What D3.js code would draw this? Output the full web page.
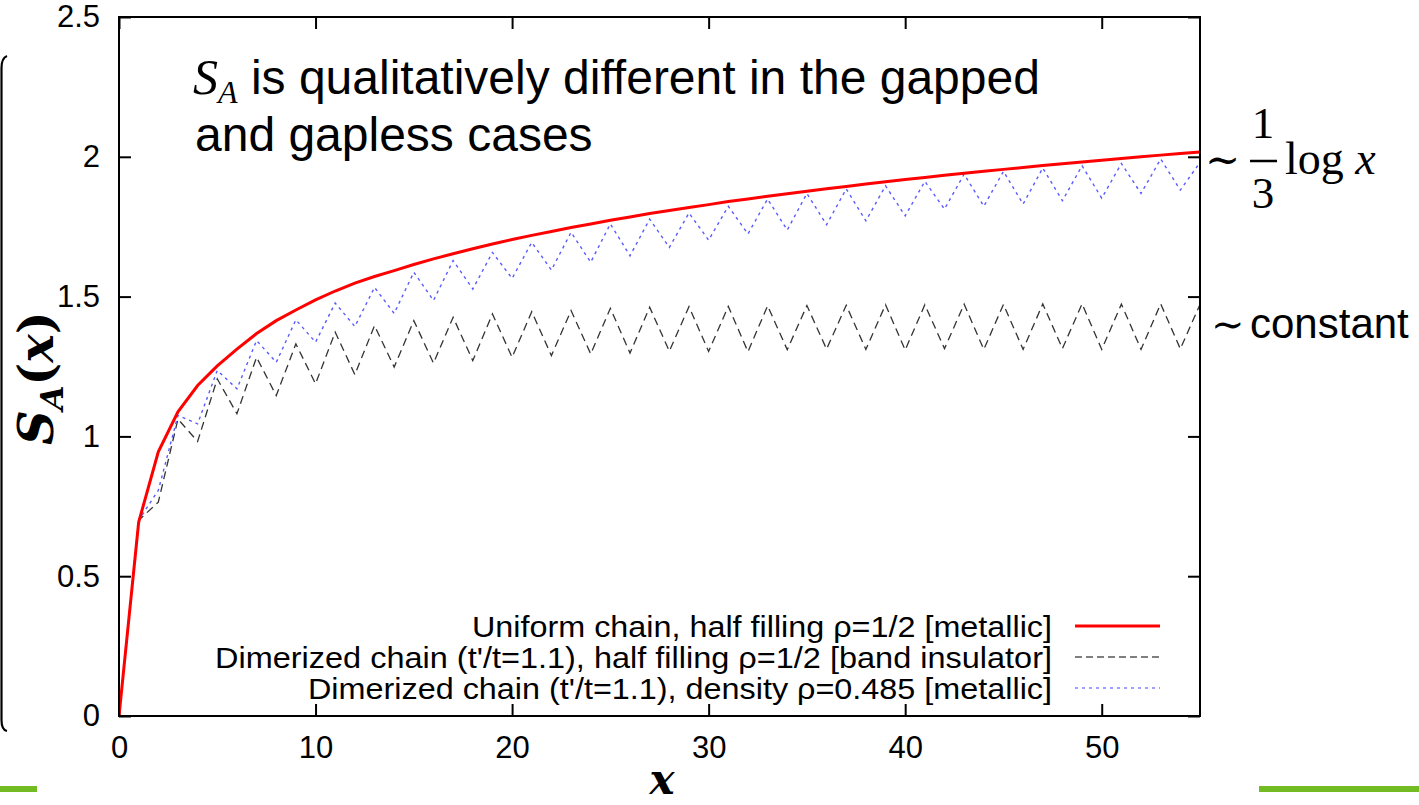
<!DOCTYPE html>
<html><head><meta charset="utf-8">
<script src="https://cdn.jsdelivr.net/npm/d3@7"></script>
<style>html,body{margin:0;padding:0;background:#fff;}svg{display:block;}</style>
</head><body>
<svg id="c" width="1419" height="805"></svg>
<script>
// ---- data ----
const uniformHalf = [0, 0.693, 0.945, 1.088, 1.182, 1.252, 1.312, 1.368, 1.414, 1.452, 1.488, 1.520, 1.548, 1.572, 1.593, 1.615, 1.635, 1.653, 1.671, 1.688, 1.704, 1.719, 1.733, 1.747, 1.760, 1.773, 1.785, 1.797, 1.808, 1.819, 1.829, 1.840, 1.849, 1.859, 1.868, 1.877, 1.886, 1.894, 1.903, 1.911, 1.919, 1.926, 1.934, 1.941, 1.948, 1.955, 1.962, 1.969, 1.975, 1.981, 1.988, 1.994, 2.000, 2.006, 2.012, 2.017];
const dimerHalf = [0, 0.70, 0.765, 1.062, 0.982, 1.206, 1.081, 1.283, 1.146, 1.331, 1.188, 1.373, 1.221, 1.396, 1.248, 1.414, 1.262, 1.426, 1.271, 1.438, 1.283, 1.446, 1.289, 1.450, 1.295, 1.458, 1.298, 1.462, 1.305, 1.464, 1.304, 1.465, 1.303, 1.467, 1.310, 1.468, 1.312, 1.469, 1.311, 1.471, 1.309, 1.471, 1.314, 1.473, 1.311, 1.472, 1.311, 1.474, 1.314, 1.474, 1.311, 1.473, 1.311, 1.474, 1.313, 1.472];
const dimerDensity = [0, 0.70, 0.807, 1.075, 1.045, 1.236, 1.170, 1.343, 1.265, 1.417, 1.337, 1.477, 1.393, 1.533, 1.440, 1.587, 1.486, 1.629, 1.527, 1.658, 1.565, 1.694, 1.595, 1.730, 1.623, 1.760, 1.646, 1.777, 1.676, 1.799, 1.702, 1.823, 1.724, 1.849, 1.738, 1.869, 1.757, 1.885, 1.771, 1.896, 1.789, 1.912, 1.813, 1.938, 1.823, 1.948, 1.831, 1.960, 1.843, 1.968, 1.852, 1.976, 1.869, 1.992, 1.881, 1.980];
const xTicks = [0, 10, 20, 30, 40, 50];
const yTicks = [0, 0.5, 1, 1.5, 2, 2.5];
const yTickLabels = ["0", "0.5", "1", "1.5", "2", "2.5"];
const legendLabels = [
  "Uniform chain, half filling \u03c1=1/2 [metallic]",
  "Dimerized chain (t'/t=1.1), half filling \u03c1=1/2 [band insulator]",
  "Dimerized chain (t'/t=1.1), density \u03c1=0.485 [metallic]"
];

// ---- layout ----
const L = 119, R = 1200, T = 17, B = 716;
const svg = d3.select("#c");
const x = d3.scaleLinear().domain([0, 55]).range([L, R]);
const y = d3.scaleLinear().domain([0, 2.5]).range([B, T]);
const sans = "'Liberation Sans', Arial, sans-serif";
const serif = "'Liberation Serif', 'DejaVu Serif', serif";
const mathf = "'DejaVu Serif', 'Liberation Serif', serif";

svg.append("clipPath").attr("id", "clip").append("rect")
  .attr("x", L).attr("y", T).attr("width", R - L).attr("height", B - T);

// slide decorations
svg.append("path").attr("d", "M7,56 Q1.5,58 1.5,68 L1.5,720 Q1.5,730 7,731")
  .attr("fill", "none").attr("stroke", "#000").attr("stroke-width", 2.2);
svg.append("rect").attr("x", 0).attr("y", 786).attr("width", 37).attr("height", 6).attr("fill", "#72bb22");
svg.append("rect").attr("x", 1259).attr("y", 786).attr("width", 160).attr("height", 6).attr("fill", "#72bb22");

// axes (gnuplot style: inner ticks, mirrored)
const tl = 12;
const gAx = svg.append("g");
gAx.append("g").attr("transform", `translate(0,${B})`)
  .call(d3.axisBottom(x).tickValues(xTicks).tickSizeInner(-tl).tickSizeOuter(0).tickPadding(20))
  .call(g => g.select(".domain").remove());
gAx.append("g").attr("transform", `translate(0,${T})`)
  .call(d3.axisTop(x).tickValues(xTicks).tickSizeInner(-tl).tickSizeOuter(0).tickFormat(""))
  .call(g => g.select(".domain").remove());
gAx.append("g").attr("transform", `translate(${L},0)`)
  .call(d3.axisLeft(y).tickValues(yTicks).tickSizeInner(-tl).tickSizeOuter(0).tickPadding(19)
    .tickFormat((d, i) => yTickLabels[i]))
  .call(g => g.select(".domain").remove());
gAx.append("g").attr("transform", `translate(${R},0)`)
  .call(d3.axisRight(y).tickValues(yTicks).tickSizeInner(-tl).tickSizeOuter(0).tickFormat(""))
  .call(g => g.select(".domain").remove());
gAx.selectAll(".tick line").attr("stroke", "#000").attr("stroke-width", 2);
gAx.selectAll(".tick text").attr("font-family", sans).attr("font-size", 31).attr("fill", "#000");

// series
const line = d3.line().x((d, i) => x(i)).y(d => y(d));
const gS = svg.append("g").attr("clip-path", "url(#clip)");
gS.append("path").datum(dimerHalf).attr("d", line).attr("fill", "none")
  .attr("stroke", "#333").attr("stroke-width", 1.3).attr("stroke-dasharray", "8,5");
gS.append("path").datum(dimerDensity).attr("d", line).attr("fill", "none")
  .attr("stroke", "#5a5aff").attr("stroke-width", 1.4).attr("stroke-dasharray", "3,4");
gS.append("path").datum(uniformHalf).attr("d", line).attr("fill", "none")
  .attr("stroke", "#ff0000").attr("stroke-width", 3);

// frame
svg.append("rect").attr("x", L).attr("y", T).attr("width", R - L).attr("height", B - T)
  .attr("fill", "none").attr("stroke", "#000").attr("stroke-width", 2);

// legend
const legStyles = [
  {stroke: "#ff0000", w: 3, dash: null},
  {stroke: "#555", w: 1.3, dash: "7,4"},
  {stroke: "#8080ff", w: 1.4, dash: "3,4"}
];
const legY = [626, 657, 688];
const legW = [580, 837, 744];
legendLabels.forEach((t, i) => {
  svg.append("text").attr("x", 1052).attr("y", legY[i] + 11).attr("text-anchor", "end")
    .attr("font-family", sans).attr("font-size", 30).attr("fill", "#000")
    .attr("textLength", legW[i]).attr("lengthAdjust", "spacingAndGlyphs").text(t);
  const ln = svg.append("line").attr("x1", 1075).attr("x2", 1160).attr("y1", legY[i]).attr("y2", legY[i])
    .attr("stroke", legStyles[i].stroke).attr("stroke-width", legStyles[i].w);
  if (legStyles[i].dash) ln.attr("stroke-dasharray", legStyles[i].dash);
});

// axis titles
const yl = svg.append("text").attr("transform", "translate(53,445) rotate(-90)")
  .attr("font-family", mathf).attr("font-weight", "bold").attr("font-size", 48).attr("fill", "#000");
yl.append("tspan").attr("font-style", "italic").text("S");
yl.append("tspan").attr("font-style", "italic").attr("font-size", 32).attr("dy", 10).text("A");
yl.append("tspan").attr("dy", -10).text("(");
yl.append("tspan").attr("font-style", "italic").text("x");
yl.append("tspan").text(")");

svg.append("text").attr("x", 662).attr("y", 794).attr("text-anchor", "middle")
  .attr("font-family", mathf).attr("font-weight", "bold").attr("font-style", "italic")
  .attr("font-size", 42).attr("fill", "#000").text("x");

// annotation inside plot
const a1 = svg.append("text").attr("x", 193).attr("y", 94).attr("font-family", sans).attr("font-size", 48).attr("fill", "#000");
a1.append("tspan").attr("font-family", serif).attr("font-style", "italic").attr("font-size", 50).text("S");
a1.append("tspan").attr("font-family", serif).attr("font-style", "italic").attr("font-size", 32).attr("dy", 9).text("A");
a1.append("tspan").attr("dy", -9).text(" is qualitatively different in the gapped");
svg.append("text").attr("x", 195).attr("y", 151).attr("font-family", sans).attr("font-size", 48)
  .attr("fill", "#000").text("and gapless cases");

// right-hand annotations
svg.append("text").attr("x", 1205).attr("y", 174).attr("font-family", serif).attr("font-size", 42).text("\u223c");
svg.append("text").attr("x", 1263).attr("y", 138).attr("text-anchor", "middle").attr("font-family", serif).attr("font-size", 45).text("1");
svg.append("line").attr("x1", 1250).attr("x2", 1277).attr("y1", 161).attr("y2", 161).attr("stroke", "#000").attr("stroke-width", 2.5);
svg.append("text").attr("x", 1263).attr("y", 208).attr("text-anchor", "middle").attr("font-family", serif).attr("font-size", 45).text("3");
const lg = svg.append("text").attr("x", 1285).attr("y", 174).attr("font-family", serif).attr("font-size", 46);
lg.append("tspan").text("log ");
lg.append("tspan").attr("font-style", "italic").text("x");
svg.append("text").attr("x", 1211).attr("y", 338).attr("font-family", serif).attr("font-size", 40).text("\u223c");
svg.append("text").attr("x", 1250).attr("y", 338).attr("font-family", sans).attr("font-size", 42).text("constant");
</script>
</body></html>
